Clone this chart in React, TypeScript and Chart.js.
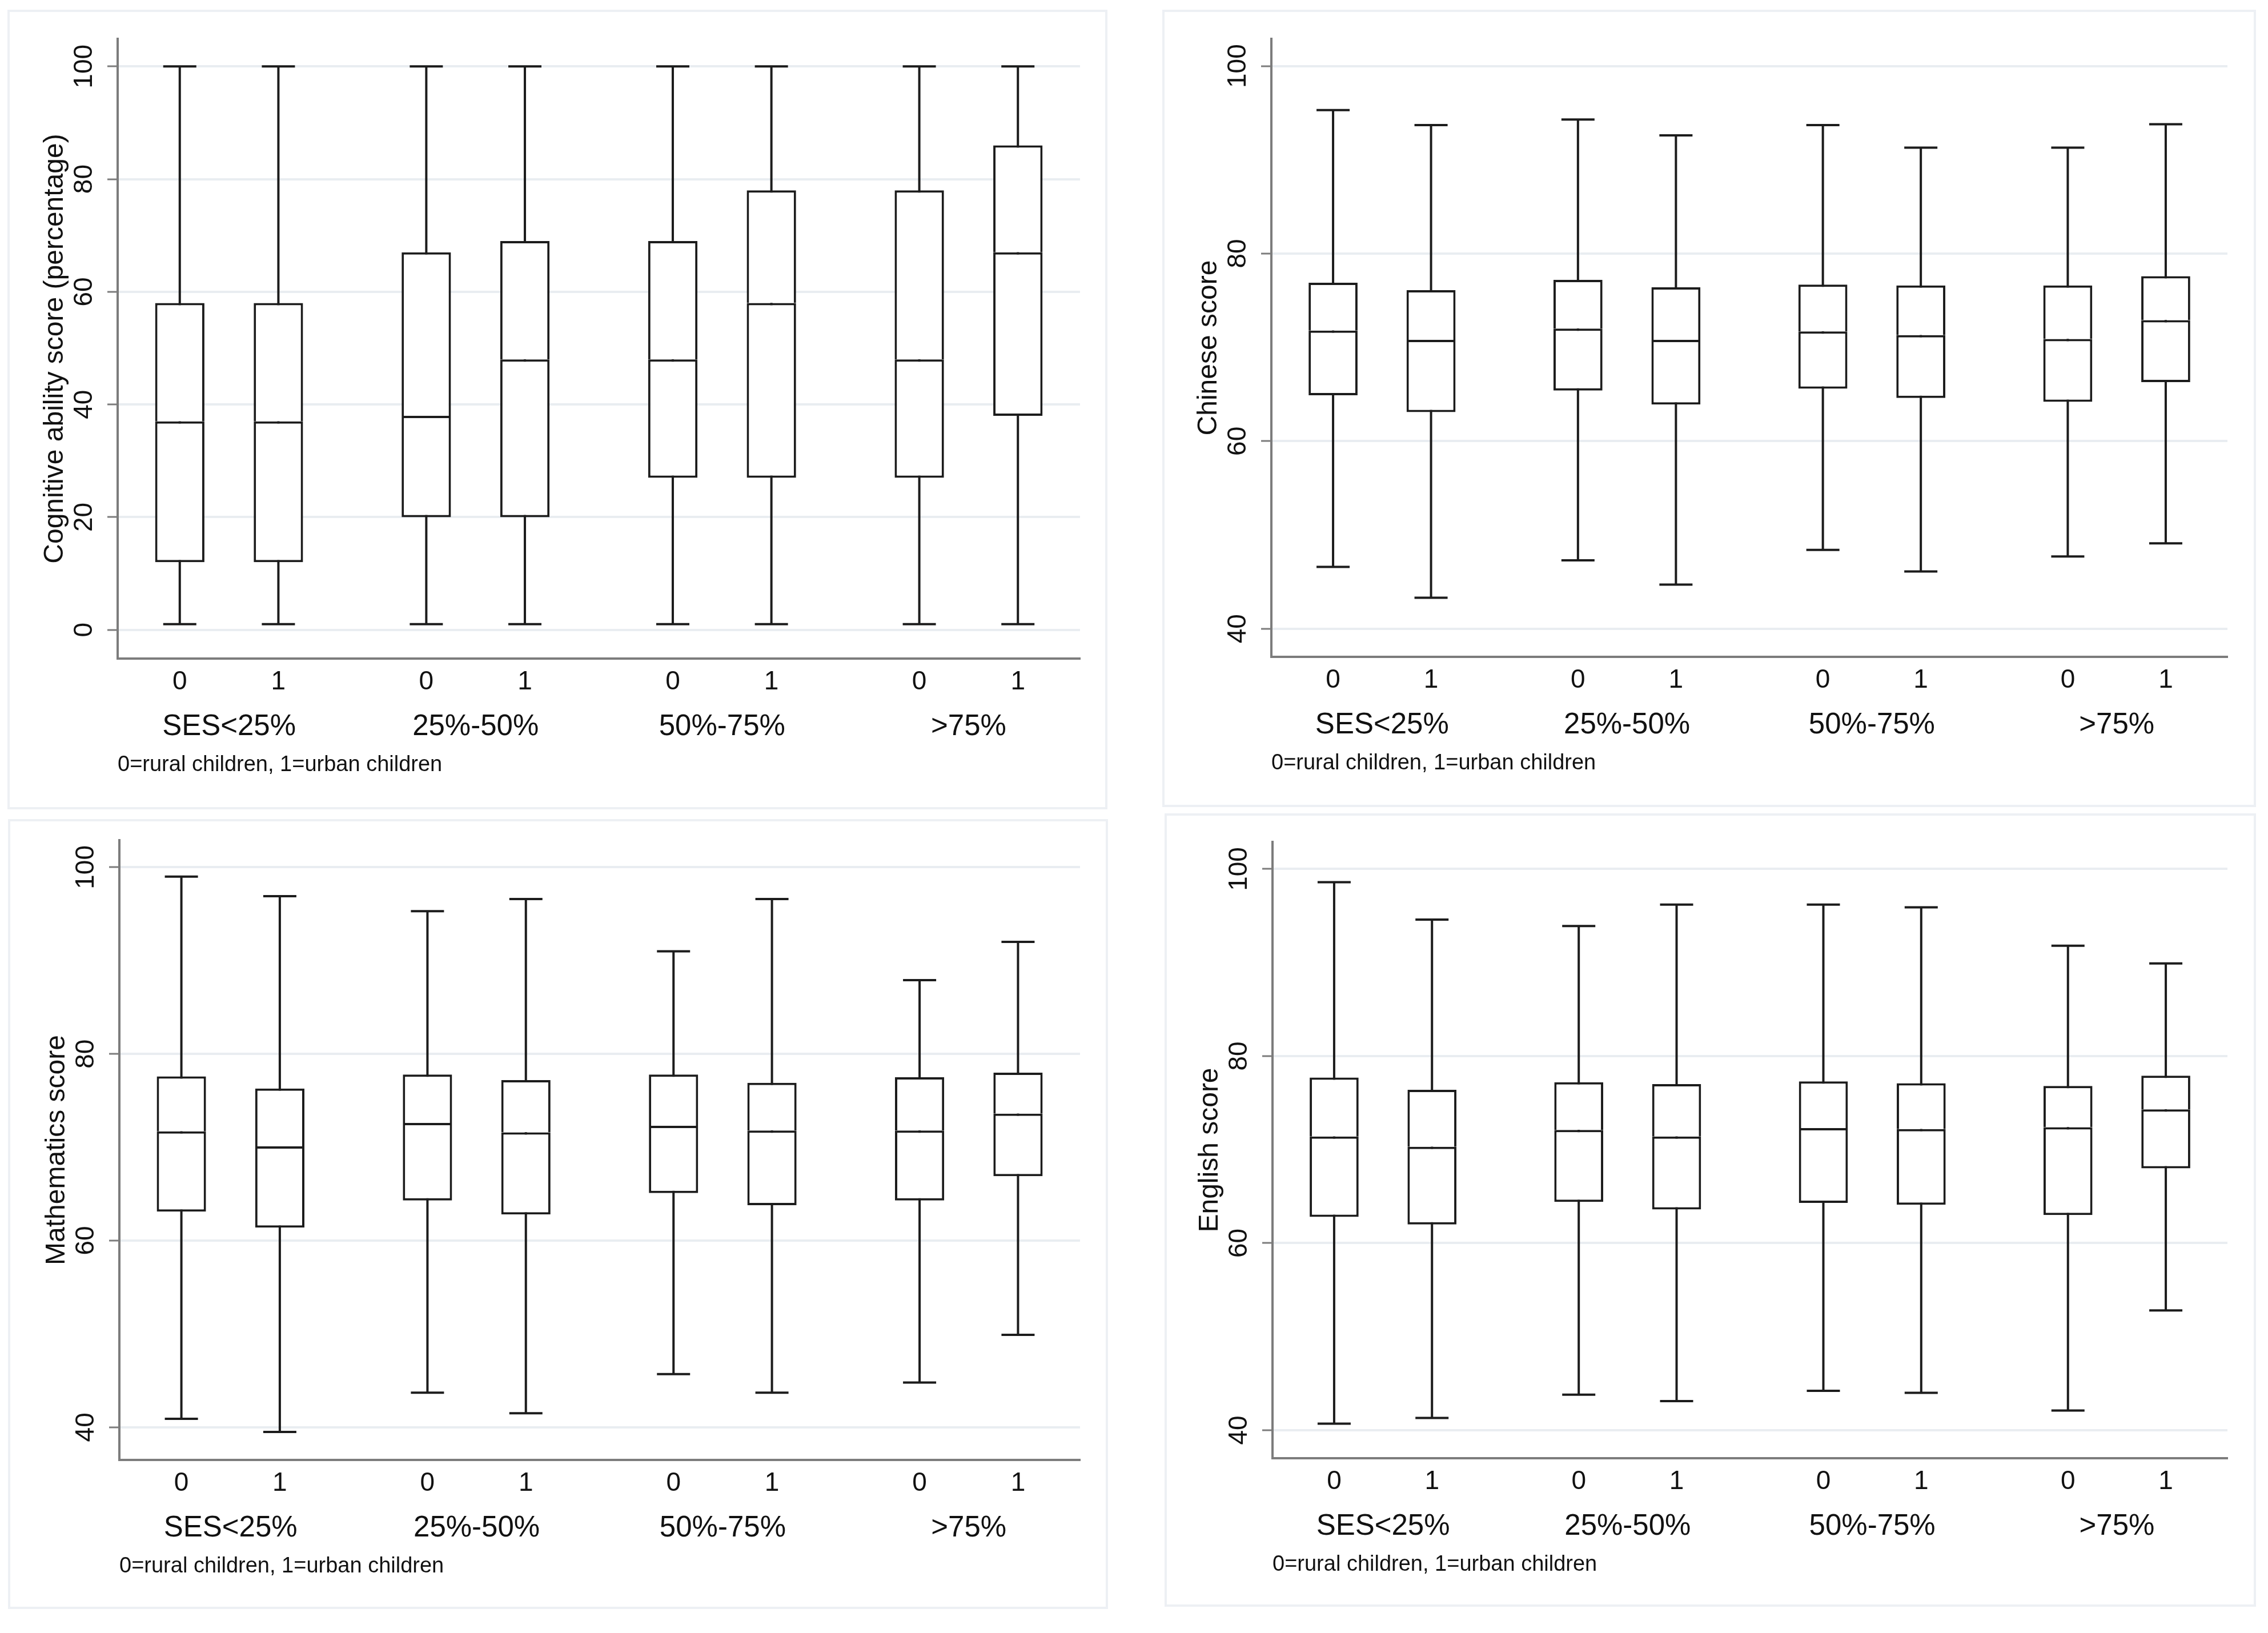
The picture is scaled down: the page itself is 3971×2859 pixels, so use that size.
import React, { useEffect, useRef } from 'react';
import { Chart, registerables } from 'chart.js';

Chart.register(...registerables);

// ---------- categories & labels ----------
const groupLabels = ['SES<25%', '25%-50%', '50%-75%', '>75%'];
const residenceLabels = ['0', '1'];
const noteText = '0=rural children, 1=urban children';

// box order: SES<25% (0,1), 25%-50% (0,1), 50%-75% (0,1), >75% (0,1)
const cognitiveMin = [1, 1, 1, 1, 1, 1, 1, 1];
const cognitiveQ1 = [12, 12, 20, 20, 27, 27, 27, 38];
const cognitiveMedian = [37, 37, 38, 48, 48, 58, 48, 67];
const cognitiveQ3 = [58, 58, 67, 69, 69, 78, 78, 86];
const cognitiveMax = [100, 100, 100, 100, 100, 100, 100, 100];

const chineseMin = [46.6, 43.3, 47.3, 44.7, 48.4, 46.1, 47.7, 49.1];
const chineseQ1 = [64.9, 63.1, 65.4, 63.9, 65.6, 64.6, 64.2, 66.3];
const chineseMedian = [71.8, 70.8, 72.0, 70.8, 71.7, 71.3, 70.9, 72.9];
const chineseQ3 = [76.9, 76.1, 77.2, 76.4, 76.7, 76.6, 76.6, 77.6];
const chineseMax = [95.3, 93.7, 94.3, 92.6, 93.7, 91.3, 91.3, 93.8];

const mathMin = [40.9, 39.5, 43.7, 41.5, 45.7, 43.7, 44.8, 49.9];
const mathQ1 = [63.1, 61.4, 64.3, 62.8, 65.1, 63.8, 64.3, 66.9];
const mathMedian = [71.7, 70.1, 72.6, 71.6, 72.3, 71.8, 71.8, 73.6];
const mathQ3 = [77.6, 76.3, 77.8, 77.2, 77.8, 76.9, 77.5, 78.0];
const mathMax = [99.0, 96.9, 95.3, 96.6, 91.0, 96.6, 87.9, 92.0];

const englishMin = [40.7, 41.3, 43.8, 43.1, 44.2, 44.0, 42.1, 52.8];
const englishQ1 = [62.8, 62.0, 64.4, 63.6, 64.3, 64.1, 63.0, 68.0];
const englishMedian = [71.4, 70.3, 72.1, 71.4, 72.3, 72.2, 72.4, 74.3];
const englishQ3 = [77.7, 76.4, 77.2, 77.0, 77.3, 77.1, 76.8, 77.9];
const englishMax = [98.6, 94.6, 93.9, 96.2, 96.2, 95.9, 91.8, 89.9];

// tick values & axis bounds
const cognitiveTicks = [0, 20, 40, 60, 80, 100];
const scoreTicks = [40, 60, 80, 100];
const cognitiveRange = [-5.1, 104.9];
const chineseRange = [37.0, 102.9];
const mathRange = [36.5, 102.9];
const englishRange = [37.0, 102.9];

// ---------- styling ----------
const FONT = "'Liberation Sans', Arial, Helvetica, sans-serif";
const INK = '#1c1c1c';
const AXIS = '#7c7c7c';
const GRID = '#e9edf1';
const PANEL_BORDER = '#edf0f4';
const GROUP_STEP = 2.5;
const X_RANGE = [-0.63, 9.13];

const boxPositions: number[] = [];
groupLabels.forEach((_, g) => residenceLabels.forEach((__, s) => boxPositions.push(g * GROUP_STEP + s)));
const groupCenters = groupLabels.map((_, g) => g * GROUP_STEP + 0.5);

type Spec = {
  title: string;
  min: number[]; q1: number[]; med: number[]; q3: number[]; max: number[];
  ticks: number[]; range: number[];
  left: number; top: number; width: number; height: number;
  axisX: number; areaTop: number; areaRight: number; areaBottom: number;
};

const specs: Spec[] = [
  { title: 'Cognitive ability score (percentage)', min: cognitiveMin, q1: cognitiveQ1, med: cognitiveMedian, q3: cognitiveQ3, max: cognitiveMax,
    ticks: cognitiveTicks, range: cognitiveRange,
    left: 13, top: 17, width: 1926, height: 1400, axisX: 206, areaTop: 68, areaRight: 1891, areaBottom: 1153 },
  { title: 'Chinese score', min: chineseMin, q1: chineseQ1, med: chineseMedian, q3: chineseQ3, max: chineseMax,
    ticks: scoreTicks, range: chineseRange,
    left: 2035, top: 17, width: 1915, height: 1396, axisX: 2226, areaTop: 68, areaRight: 3900, areaBottom: 1150 },
  { title: 'Mathematics score', min: mathMin, q1: mathQ1, med: mathMedian, q3: mathQ3, max: mathMax,
    ticks: scoreTicks, range: mathRange,
    left: 14, top: 1434, width: 1926, height: 1383, axisX: 209, areaTop: 1471, areaRight: 1891, areaBottom: 2556 },
  { title: 'English score', min: englishMin, q1: englishQ1, med: englishMedian, q3: englishQ3, max: englishMax,
    ticks: scoreTicks, range: englishRange,
    left: 2039, top: 1424, width: 1911, height: 1389, axisX: 2228, areaTop: 1474, areaRight: 3900, areaBottom: 2553 },
];

function BoxPanel({ spec }: { spec: Spec }) {
  const ref = useRef<HTMLCanvasElement>(null);

  useEffect(() => {
    const canvas = ref.current;
    if (!canvas) return;

    const yWidth = spec.axisX - spec.left;
    const padTop = spec.areaTop - spec.top;
    const padRight = spec.left + spec.width - spec.areaRight;
    const H1 = 80;
    const H2 = 129.8;
    const padBottom = spec.top + spec.height - (spec.areaBottom + H1 + H2);

    const whiskers: any[] = [];
    const caps: any[] = [];
    boxPositions.forEach((p, i) => {
      whiskers.push({ x: p, y: spec.min[i] }, { x: p, y: spec.max[i] }, { x: p, y: null });
      caps.push({ x: p, y: spec.min[i] }, { x: p, y: spec.max[i] });
    });
    const lower = boxPositions.map((p, i) => ({ x: p, y: [spec.q1[i], spec.med[i]] }));
    const upper = boxPositions.map((p, i) => ({ x: p, y: [spec.med[i], spec.q3[i]] }));

    const chart = new Chart(canvas, {
      type: 'bar',
      data: {
        datasets: [
          {
            type: 'line', data: whiskers, borderColor: INK, borderWidth: 4, pointRadius: 0,
            spanGaps: false, fill: false, order: 3,
          } as any,
          {
            type: 'scatter', data: caps, pointStyle: 'line', pointRadius: 29, pointBorderWidth: 4,
            borderColor: INK, pointBorderColor: INK, showLine: false, order: 2,
          } as any,
          {
            type: 'bar', data: lower, backgroundColor: '#ffffff', borderColor: INK,
            borderWidth: 4, borderSkipped: false, grouped: false, barPercentage: 0.5,
            categoryPercentage: 1, order: 1,
          } as any,
          {
            type: 'bar', data: upper, backgroundColor: '#ffffff', borderColor: INK,
            borderWidth: { top: 4, left: 4, right: 4, bottom: 0 }, borderSkipped: false, grouped: false,
            barPercentage: 0.5, categoryPercentage: 1, order: 1,
          } as any,
        ],
      },
      options: {
        responsive: false,
        devicePixelRatio: 1,
        animation: false,
        events: [],
        layout: { padding: { left: 0, top: padTop, right: padRight, bottom: padBottom } },
        plugins: { legend: { display: false }, tooltip: { enabled: false }, title: { display: false } },
        scales: {
          x: {
            type: 'linear', position: 'bottom', weight: 0, min: X_RANGE[0], max: X_RANGE[1], offset: false,
            afterBuildTicks: (s: any) => { s.ticks = boxPositions.map((v) => ({ value: v })); },
            afterFit: (s: any) => { s.height = H1; },
            grid: { display: false, drawTicks: false, offset: false },
            border: { display: true, color: AXIS, width: 4 },
            ticks: {
              autoSkip: false, minRotation: 0, maxRotation: 0, padding: 13.4, color: '#111',
              font: { family: FONT, size: 46 },
              callback: (_v: any, i: number) => residenceLabels[i % residenceLabels.length],
            },
          },
          x2: {
            type: 'linear', position: 'bottom', weight: 1, min: X_RANGE[0], max: X_RANGE[1], offset: false,
            afterBuildTicks: (s: any) => { s.ticks = groupCenters.map((v) => ({ value: v })); },
            afterFit: (s: any) => { s.height = H2; },
            grid: { display: false, drawTicks: false },
            border: { display: false },
            ticks: {
              autoSkip: false, minRotation: 0, maxRotation: 0, padding: 9.4, color: '#111',
              font: { family: FONT, size: 51 },
              callback: (_v: any, i: number) => groupLabels[i],
            },
            title: {
              display: true, text: noteText, align: 'start', color: '#111',
              font: { family: FONT, size: 38 }, padding: { top: 0, bottom: 0 },
            },
          },
          y: {
            type: 'linear', position: 'left', min: spec.range[0], max: spec.range[1],
            afterBuildTicks: (s: any) => { s.ticks = spec.ticks.map((v) => ({ value: v })); },
            afterFit: (s: any) => { s.width = yWidth; },
            grid: { color: GRID, lineWidth: 4, drawTicks: true, tickLength: 18, tickColor: AXIS, tickWidth: 3 },
            border: { display: true, color: AXIS, width: 4 },
            ticks: {
              minRotation: 90, maxRotation: 90, crossAlign: 'center', padding: 1, color: '#111',
              font: { family: FONT, size: 46 },
            },
            title: {
              display: true, text: spec.title, color: '#111',
              font: { family: FONT, size: 48 }, padding: { top: yWidth - 109 - 28.8, bottom: 0 },
            },
          },
        },
      } as any,
    });
    return () => chart.destroy();
  }, [spec]);

  return (
    <>
      <div
        style={{
          position: 'absolute', left: spec.left, top: spec.top, width: spec.width, height: spec.height,
          border: `4px solid ${PANEL_BORDER}`, boxSizing: 'border-box',
        }}
      />
      <canvas
        ref={ref}
        width={spec.width}
        height={spec.height}
        style={{ position: 'absolute', left: spec.left, top: spec.top, width: spec.width, height: spec.height }}
      />
    </>
  );
}

export default function App() {
  return (
    <div
      style={{
        position: 'absolute', left: 0, top: 0, width: 3971, height: 2859,
        background: '#ffffff', overflow: 'hidden',
      }}
    >
      {specs.map((s) => (
        <BoxPanel key={s.title} spec={s} />
      ))}
    </div>
  );
}
